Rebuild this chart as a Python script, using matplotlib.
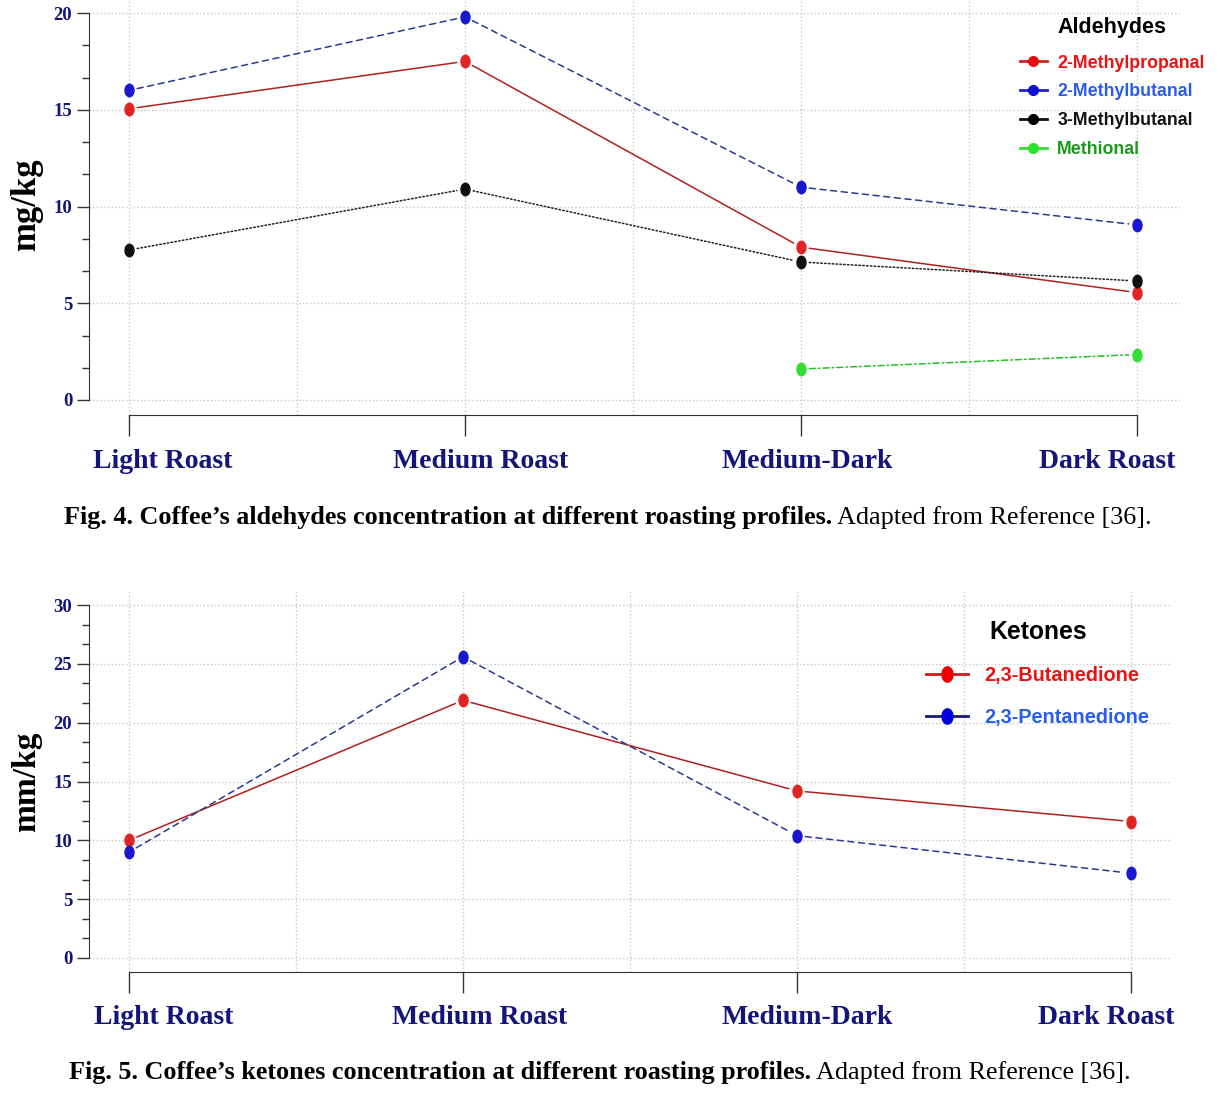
import numpy as np
import matplotlib.pyplot as plt
from matplotlib.lines import Line2D
from matplotlib.path import Path
from matplotlib.transforms import Affine2D, blended_transform_factory


# data
roasts = ["Light Roast", "Medium Roast", "Medium-Dark", "Dark Roast"]

aldehyde_names = ["2-Methylpropanal", "2-Methylbutanal", "3-Methylbutanal", "Methional"]
methylpropanal = [15.05, 17.5, 7.9, 5.55]
methylbutanal_2 = [16.0, 19.8, 11.0, 9.05]
methylbutanal_3 = [7.75, 10.9, 7.13, 6.15]
methional = [np.nan, np.nan, 1.6, 2.35]

ketone_names = ["2,3-Butanedione", "2,3-Pentanedione"]
butanedione = [10.0, 21.9, 14.2, 11.6]
pentanedione = [9.0, 25.6, 10.4, 7.2]

# styles
navy = "#14147a"
serif = "Liberation Serif"
sans = "Liberation Sans"
grid_col = "#c8c8c8"

# oval point like the R plot
oval = Path.unit_circle().transformed(Affine2D().scale(0.72, 1.0))

W, H = 1226, 1094
fig = plt.figure(figsize=(W / 100, H / 100), dpi=100)


def px_axes(left, top, right, bottom):
    return fig.add_axes([left / W, 1 - bottom / H, (right - left) / W, (bottom - top) / H])


def setup_axes(ax, x0px, x3px, y0px, ytop_px, ytop_val, left, top, right, bottom, yticks):
    xs = (x3px - x0px) / 3.0
    ys = (y0px - ytop_px) / ytop_val
    ax.set_xlim(-(x0px - left) / xs, 3 + (right - x3px) / xs)
    ax.set_ylim(-(bottom - y0px) / ys, ytop_val + (ytop_px - top) / ys)

    for s in ["top", "right"]:
        ax.spines[s].set_visible(False)
    ax.spines["left"].set_bounds(0, ytop_val)
    ax.spines["bottom"].set_bounds(0, 3)
    ax.spines["left"].set_color("#333333")
    ax.spines["bottom"].set_color("#333333")

    ax.set_yticks(yticks)
    ax.set_yticks(np.arange(0, ytop_val + 0.01, 5 / 3), minor=True)
    ax.tick_params(axis="y", which="major", length=9, width=1, color="#333333",
                   labelcolor=navy, labelsize=13.5, pad=3)
    ax.tick_params(axis="y", which="minor", length=5, width=1, color="#333333")
    for lab in ax.get_yticklabels():
        lab.set_family(serif)
        lab.set_weight("bold")

    ax.set_xticks(range(4))
    ax.set_xticklabels([])
    ax.tick_params(axis="x", which="major", length=15, width=1, color="#333333")

    for y in yticks:
        ax.axhline(y, color=grid_col, ls=":", lw=1, zorder=0)
    for x in np.arange(0, 3.01, 0.5):
        ax.axvline(x, color=grid_col, ls=":", lw=1, zorder=0)


def draw_b(ax, vals, line_col, pt_col, ls):
    # R type="b": points joined by lines that stop short of each point
    for i in range(len(vals) - 1):
        if np.isnan(vals[i]) or np.isnan(vals[i + 1]):
            continue
        ax.annotate("", xy=(i + 1, vals[i + 1]), xytext=(i, vals[i]),
                    arrowprops=dict(arrowstyle="-", color=line_col, lw=1.1, ls=ls,
                                    shrinkA=6, shrinkB=6), zorder=3)
    ax.plot(range(len(vals)), vals, ls="none", marker=oval, ms=9, color=pt_col, zorder=4)


def cat_labels(ax, ypx, offsets):
    tr = blended_transform_factory(ax.transData, fig.transFigure)
    for i, name in enumerate(roasts):
        ax.text(i + offsets[i], 1 - ypx / H, name, transform=tr, ha="center", va="center",
                fontsize=20, family=serif, weight="bold", color=navy)


def caption(xpx, ypx, bold_part, rest):
    t = fig.text(xpx / W, 1 - ypx / H, bold_part, fontsize=18.8, family=serif, weight="bold",
                 va="baseline", ha="left")
    fig.get_axes()[0].annotate(rest, xy=(1, 0), xycoords=t, va="bottom", ha="left",
                               fontsize=18.8, family=serif, annotation_clip=False)


# ---------- Fig. 4 aldehydes ----------
ax1 = px_axes(89, 0, 1180, 415)
setup_axes(ax1, 129, 1137, 400, 13, 20, 89, 0, 1180, 415, [0, 5, 10, 15, 20])

draw_b(ax1, methylpropanal, "#b02020", "#e02424", "-")
draw_b(ax1, methylbutanal_2, "#283a8e", "#1818d0", (0, (4, 3)))
draw_b(ax1, methylbutanal_3, "#202020", "#111111", (0, (1, 1.5)))
draw_b(ax1, methional, "#22c022", "#33dd33", (0, (4, 2, 1, 2)))

fig.text(27 / W, 1 - 205 / H, "mg/kg", rotation=90, ha="center", va="center",
         fontsize=25, family=serif, weight="bold")
cat_labels(ax1, 461, [0.1, 0.045, 0.02, -0.09])

h1 = [Line2D([], [], color=c, lw=2, marker="o", ms=7, markerfacecolor=m, markeredgecolor=m)
      for c, m in [("#d02020", "#e01010"), ("#2020c0", "#1010d0"),
                   ("#111111", "#000000"), ("#30e030", "#30e030")]]
leg1 = ax1.legend(h1, aldehyde_names, title="Aldehydes", loc="upper left",
                  bbox_to_anchor=(1020 / W, 1 - 17 / H), bbox_transform=fig.transFigure,
                  frameon=False, borderpad=0, borderaxespad=0, handlelength=1.5,
                  handletextpad=0.6, labelspacing=0.66,
                  labelcolor=["#ee1111", "#2a5cf0", "#111111", "#1a9a1a"],
                  prop={"family": sans, "size": 12.8, "weight": "bold"},
                  title_fontproperties={"family": sans, "size": 15.5, "weight": "bold"})
leg1._legend_box.sep = 12

caption(64, 524, "Fig. 4. Coffee\u2019s aldehydes concentration at different roasting profiles.",
        " Adapted from Reference [36].")

# ---------- Fig. 5 ketones ----------
ax2 = px_axes(89, 590, 1172, 972)
setup_axes(ax2, 129, 1131, 958, 605, 30, 89, 590, 1172, 972, [0, 5, 10, 15, 20, 25, 30])

draw_b(ax2, butanedione, "#b02020", "#e02424", "-")
draw_b(ax2, pentanedione, "#283a8e", "#1818d0", (0, (4, 3)))

fig.text(27 / W, 1 - 782 / H, "mm/kg", rotation=90, ha="center", va="center",
         fontsize=24, family=serif, weight="bold")
cat_labels(ax2, 1017, [0.105, 0.05, 0.03, -0.075])

h2 = [Line2D([], [], color=c, lw=2, marker=oval, ms=11, markerfacecolor=m, markeredgecolor=m)
      for c, m in [("#cc1a1a", "#ee0000"), ("#1a1a70", "#0000dd")]]
leg2 = ax2.legend(h2, ketone_names, title="Ketones", loc="upper left",
                  bbox_to_anchor=(926 / W, 1 - 620 / H), bbox_transform=fig.transFigure,
                  frameon=False, borderpad=0, borderaxespad=0, handlelength=2.1,
                  handletextpad=0.85, labelspacing=1.15,
                  labelcolor=["#ee1111", "#2a5cf0"],
                  prop={"family": sans, "size": 14.3, "weight": "bold"},
                  title_fontproperties={"family": sans, "size": 17.8, "weight": "bold"})
leg2._legend_box.sep = 16

caption(69, 1079, "Fig. 5. Coffee\u2019s ketones concentration at different roasting profiles.",
        " Adapted from Reference [36].")

fig.savefig("out.png", dpi=100)
